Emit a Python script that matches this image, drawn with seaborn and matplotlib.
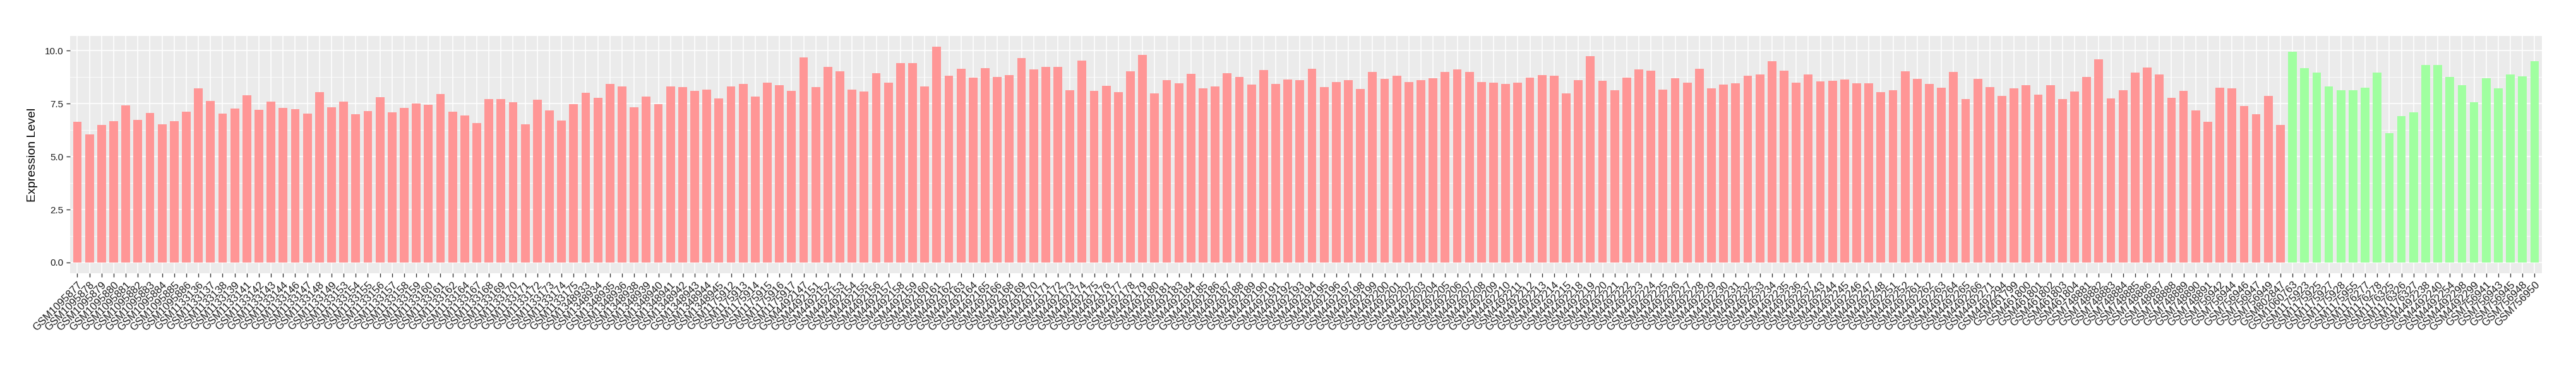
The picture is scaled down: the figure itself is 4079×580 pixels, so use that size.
import pandas as pd
import seaborn as sns
import matplotlib
matplotlib.use("Agg")
import matplotlib.pyplot as plt

# sample ids, in plotting order
red_ids = (
    ["GSM10958%02d" % i for i in range(77, 87)]
    + ["GSM1133%d" % i for i in [136, 137, 138, 139, 141, 142, 143, 144, 146, 147, 148, 149,
                                 153, 154, 155, 156, 157, 158, 159, 160, 161, 162, 164, 167,
                                 168, 169, 170, 171, 172, 173, 174, 175]]
    + ["GSM1348%d" % i for i in [933, 934, 935, 936, 938, 939, 940, 941, 942, 943, 944, 945]]
    + ["GSM1175%d" % i for i in [912, 913, 914, 915, 916, 917]]
    + ["GSM4492%d" % i for i in [147] + list(range(151, 167)) + list(range(168, 182))
       + list(range(183, 216)) + list(range(218, 238)) + list(range(243, 249))
       + [251, 252, 261, 262, 263, 264, 265, 266, 271, 294]]
    + ["GSM461799", "GSM461800", "GSM461801", "GSM461802", "GSM461803", "GSM461804"]
    + ["GSM748%d" % i for i in range(881, 892)]
    + ["GSM756%d" % i for i in [942, 944, 946, 947, 949]]
    + ["GSM802847"]
)

green_ids = [
    "GSM1060763", "GSM1175923", "GSM1175925", "GSM1175927", "GSM1175928", "GSM1175955",
    "GSM1176277", "GSM1176278", "GSM1176325", "GSM1176326", "GSM1176327",
    "GSM4492238", "GSM4492240", "GSM4492254", "GSM4492298", "GSM4492299",
    "GSM756941", "GSM756943", "GSM756945", "GSM756948", "GSM756950",
]

red_vals = [
    6.64, 6.05, 6.50, 6.67, 7.42, 6.73, 7.06, 6.52, 6.67, 7.11,
    8.23, 7.62, 7.03, 7.27, 7.90, 7.21, 7.60, 7.30, 7.24, 7.03, 8.04, 7.32,
    7.60, 7.00, 7.15, 7.81, 7.09, 7.30, 7.51, 7.44, 7.95, 7.11, 6.94, 6.59,
    7.72, 7.72, 7.57, 6.52, 7.69, 7.18, 6.71, 7.48,
    8.02, 7.78, 8.43, 8.31, 7.32, 7.83, 7.48, 8.31, 8.28, 8.11, 8.16, 7.74,
    8.31, 8.43, 7.83, 8.49, 8.37, 8.11,
    9.68, 8.28, 9.23, 9.03, 8.16, 8.07, 8.93, 8.49, 9.42, 9.42, 8.31, 10.19,
    8.82, 9.14, 8.72, 9.17, 8.76, 8.84, 9.65, 9.12, 9.23, 9.23, 8.13, 9.53,
    8.11, 8.34, 8.04, 9.03, 9.80, 7.98, 8.61, 8.46, 8.91, 8.23, 8.31, 8.93,
    8.76, 8.40, 9.09, 8.43, 8.63, 8.61, 9.14, 8.28, 8.52, 8.61, 8.19, 9.00,
    8.67, 8.82, 8.52, 8.61, 8.70, 9.00, 9.12, 9.00, 8.52, 8.49, 8.43, 8.49,
    8.72, 8.84, 8.82, 7.98, 8.61, 9.74, 8.58, 8.13, 8.72, 9.12, 9.05, 8.16,
    8.70, 8.49, 9.14, 8.23, 8.40, 8.46, 8.82, 8.88, 9.50, 9.05, 8.49, 8.88,
    8.55, 8.58, 8.63, 8.46, 8.46, 8.04, 8.13, 9.03, 8.67, 8.43, 8.25, 9.00,
    7.72, 8.67, 8.28, 7.86,
    8.23, 8.37, 7.92, 8.37, 7.72, 8.07,
    8.76, 9.59, 7.74, 8.13, 8.96, 9.21, 8.88, 7.78, 8.11, 7.18, 6.64,
    8.25, 8.23, 7.39, 7.00, 7.86,
    6.50,
]

green_vals = [
    9.94, 9.17, 8.96, 8.31, 8.13, 8.13, 8.25, 8.96, 6.11, 6.92, 7.09,
    9.33, 9.33, 8.76, 8.37, 7.57, 8.70, 8.23, 8.88, 8.79, 9.50,
]

samples = red_ids + green_ids
values = red_vals + green_vals
groups = ["red"] * len(red_ids) + ["green"] * len(green_ids)
df = pd.DataFrame({"sample": samples, "expr": values, "group": groups})

plt.rcParams["font.family"] = ["Liberation Sans", "DejaVu Sans"]

fig = plt.figure(figsize=(40.8, 5.8), dpi=100)
ax = fig.add_axes([0.0272, 0.2534, 0.9593, 0.6483])

sns.barplot(data=df, x="sample", y="expr", hue="group", order=samples,
            palette={"red": "#FF9696", "green": "#A0FFA0"}, dodge=False,
            width=0.72, legend=False, saturation=1, ax=ax)

ymax = max(values)
ax.set_xlim(-0.6, len(samples) - 0.4)
ax.set_ylim(-0.05 * ymax, 1.05 * ymax)

# ggplot-like grey panel
ax.set_facecolor("#EBEBEB")
for s in ax.spines.values():
    s.set_visible(False)
ax.set_yticks([0, 2.5, 5, 7.5, 10])
ax.set_yticklabels(["0.0", "2.5", "5.0", "7.5", "10.0"], fontsize=11, color="#1a1a1a")
ax.set_yticks([1.25, 3.75, 6.25, 8.75], minor=True)
ax.grid(which="major", color="white", linewidth=1.1)
ax.grid(which="minor", axis="y", color="white", linewidth=0.55)
ax.set_axisbelow(True)
ax.tick_params(axis="both", which="major", length=4, width=1, color="#333333")
ax.tick_params(axis="y", which="minor", length=0)

ax.set_xticks(range(len(samples)))
ax.set_xticklabels(samples, rotation=45, ha="right", rotation_mode="anchor",
                   fontsize=12, color="#1a1a1a")
ax.set_xlabel("")
ax.set_ylabel("Expression Level", fontsize=14, labelpad=8)

fig.savefig("out.png", dpi=100)
